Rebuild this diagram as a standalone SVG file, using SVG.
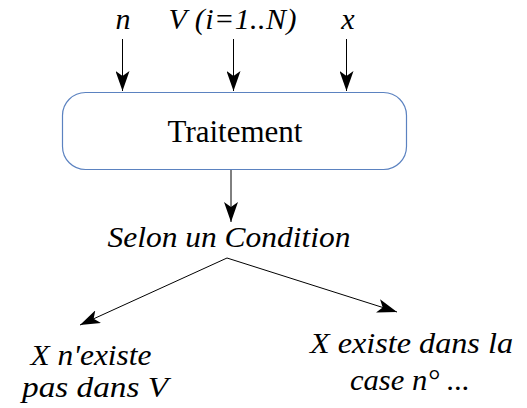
<svg xmlns="http://www.w3.org/2000/svg" width="527" height="408" viewBox="0 0 527 408">
<style>
.lbl{font-family:"Liberation Serif",serif;font-style:italic;fill:#000}
.top{font-size:30px}
.low{font-family:"Liberation Serif",serif;font-style:italic;font-size:29px;fill:#000}
.edge{stroke:#000;stroke-width:1;fill:none}
</style>
<defs>
<marker id="ah" markerUnits="userSpaceOnUse" markerWidth="20" markerHeight="14" refX="20" refY="7" orient="auto">
<path d="M0,0 L20,7 L0,14 L5,7 Z" fill="#000"/>
</marker>
</defs>
<rect width="527" height="408" fill="#fff"/>
<g id="in-n"><text class="lbl top" x="123" y="29" text-anchor="middle">n</text></g>
<g id="in-V"><text class="lbl top" x="232.5" y="29" text-anchor="middle" textLength="128" lengthAdjust="spacing">V (i=1..N)</text></g>
<g id="in-x"><text class="lbl top" x="348" y="29" text-anchor="middle">x</text></g>
<g id="traitement">
<rect x="62.5" y="92.5" width="344" height="77" rx="23" ry="23" fill="#fff" stroke="#5b82c0" stroke-width="1.2"/>
<text x="235" y="142" text-anchor="middle" font-family="'Liberation Serif',serif" font-size="31" fill="#000">Traitement</text>
</g>
<g id="condition"><text class="low" x="229" y="247" text-anchor="middle" textLength="243" lengthAdjust="spacingAndGlyphs">Selon un Condition</text></g>
<g id="non">
<text class="low" x="91" y="365" text-anchor="middle" textLength="121" lengthAdjust="spacingAndGlyphs">X n'existe</text>
<text class="low" x="95" y="397" text-anchor="middle" textLength="146" lengthAdjust="spacingAndGlyphs">pas dans V</text>
</g>
<g id="oui">
<text class="low" x="411.5" y="353" text-anchor="middle" textLength="203" lengthAdjust="spacingAndGlyphs">X existe dans la</text>
<text class="low" x="410" y="390" text-anchor="middle" textLength="120" lengthAdjust="spacingAndGlyphs">case n° ...</text>
</g>
<g id="connectors">
<line class="edge" x1="122.5" y1="39" x2="122.5" y2="91" marker-end="url(#ah)"/>
<line class="edge" x1="233.5" y1="39" x2="233.5" y2="91" marker-end="url(#ah)"/>
<line class="edge" x1="346.5" y1="39" x2="346.5" y2="91" marker-end="url(#ah)"/>
<line class="edge" x1="231" y1="170" x2="231" y2="222" marker-end="url(#ah)"/>
<line class="edge" x1="227" y1="258" x2="80" y2="325" marker-end="url(#ah)"/>
<line class="edge" x1="227" y1="258" x2="397" y2="312" marker-end="url(#ah)"/>
</g>
</svg>
